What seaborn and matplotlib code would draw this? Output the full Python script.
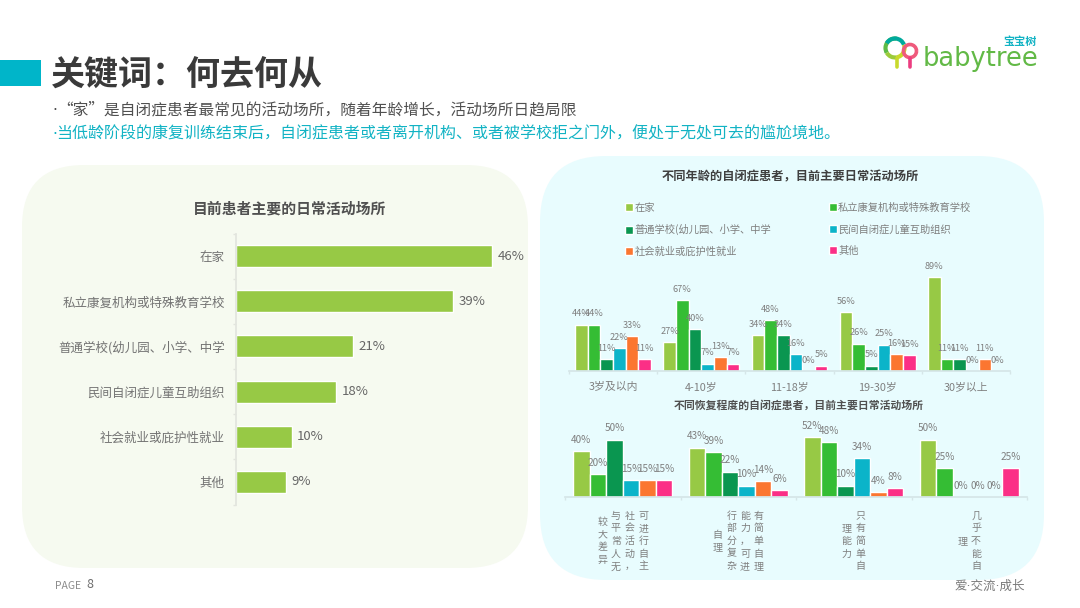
import matplotlib
matplotlib.use("Agg")
import matplotlib.pyplot as plt
import seaborn as sns
import pandas as pd
import numpy as np
from matplotlib.patches import FancyBboxPatch, Rectangle, Arc

W, H = 1080, 608

# left chart
places = ["在家", "私立康复机构或特殊教育学校", "普通学校(幼儿园、小学、中学", "民间自闭症儿童互助组织", "社会就业或庇护性就业", "其他"]
place_share = [46, 39, 21, 18, 10, 9]

# right top chart
age_groups = ["3岁及以内", "4-10岁", "11-18岁", "19-30岁", "30岁以上"]
age_home = [44, 27, 34, 56, 89]
age_private = [44, 67, 48, 26, 11]
age_school = [11, 40, 34, 5, 11]
age_civil = [22, 7, 16, 25, 0]
age_work = [33, 13, 0, 16, 11]
age_other = [11, 7, 5, 15, 0]

# right bottom chart
recovery_groups = ["可进行自主社会活动，与平常人无较大差异", "有简单自理能力，可进行部分复杂自理", "只有简单自理能力", "几乎不能自理"]
rec_home = [40, 43, 52, 50]
rec_private = [20, 39, 48, 25]
rec_school = [50, 22, 10, 0]
rec_civil = [15, 10, 34, 0]
rec_work = [15, 14, 4, 0]
rec_other = [15, 6, 8, 25]

colors = ["#97c945", "#35bd34", "#0a9650", "#0bb4c9", "#fb7630", "#fb2f86"]
GRAY = "#7f7f7f"
DARK = "#3a3a3a"

sns.set_theme(style="white")
plt.rcParams["font.family"] = ["Noto Sans CJK SC", "DejaVu Sans"]

fig = plt.figure(figsize=(W / 100, H / 100), dpi=100, facecolor="white")


def px_axes(x0, y0, x1, y1):
    # box given in image pixels, y going down
    ax = fig.add_axes([x0 / W, 1 - y1 / H, (x1 - x0) / W, (y1 - y0) / H])
    ax.patch.set_alpha(0)
    return ax


def long_table(groups, series):
    rows = []
    for name, values in zip(places, series):
        for g, v in zip(groups, values):
            rows.append({"group": g, "place": name, "value": v})
    return pd.DataFrame(rows)


def grouped_bars(ax, groups, series, ymax, label_size, tick_size, legend):
    df = long_table(groups, series)
    sns.barplot(data=df, x="group", y="value", hue="place", hue_order=places, palette=colors,
                width=0.86, gap=0, saturation=1, errorbar=None, legend=legend, ax=ax)
    for c in ax.containers:
        ax.bar_label(c, fmt="%d%%", padding=4.5, fontsize=label_size, color=GRAY)
    ax.set_xlim(-0.5, len(groups) - 0.5)
    ax.set_ylim(0, ymax)
    ax.set_xlabel("")
    ax.set_ylabel("")
    ax.set_yticks([])
    for s in ["top", "left", "right"]:
        ax.spines[s].set_visible(False)
    ax.spines["bottom"].set_color("#d5e6e8")
    ax.set_xticks(np.arange(-0.5, len(groups)), minor=True)
    ax.tick_params(axis="x", which="minor", length=2.5, color="#d5e6e8", bottom=True)
    ax.tick_params(axis="x", which="major", length=0, labelsize=tick_size, labelcolor=GRAY, pad=8)


# background layer
bg = fig.add_axes([0, 0, 1, 1])
bg.set_xlim(0, W)
bg.set_ylim(H, 0)
bg.axis("off")
bg.add_patch(FancyBboxPatch((22, 165), 506, 403, boxstyle="round,pad=0,rounding_size=62",
                            fc="#f6faf0", ec="none"))
bg.add_patch(FancyBboxPatch((540, 156), 504, 424, boxstyle="round,pad=0,rounding_size=66",
                            fc="#e8fcfe", ec="none"))
bg.add_patch(Rectangle((0, 60), 41, 26, fc="#00b5c9", ec="none"))

bg.text(51, 75, "关键词：何去何从", fontsize=24.5, fontweight="bold", color=DARK, va="center", ha="left")
bg.text(52, 110, "·", fontsize=11, family="DejaVu Sans", color="#505050", va="center", ha="left")
bg.text(57, 110, "“家”是自闭症患者最常见的活动场所，随着年龄增长，活动场所日趋局限", fontsize=11.3,
        color="#505050", va="center", ha="left")
bg.text(52, 134, "·", fontsize=11, family="DejaVu Sans", color="#12b3c4", va="center", ha="left")
bg.text(56, 134, "当低龄阶段的康复训练结束后，自闭症患者或者离开机构、或者被学校拒之门外，便处于无处可去的尴尬境地。",
        fontsize=11.5, color="#12b3c4", va="center", ha="left")

bg.text(290, 209, "目前患者主要的日常活动场所", fontsize=10.7, fontweight="bold", color="#505050", va="center", ha="center")
bg.text(790, 177, "不同年龄的自闭症患者，目前主要日常活动场所", fontsize=8.8, fontweight="bold", color="#404040",
        va="center", ha="center")
bg.text(799, 405, "不同恢复程度的自闭症患者，目前主要日常活动场所", fontsize=7.8, fontweight="bold", color="#505050",
        va="center", ha="center")

bg.text(55, 586, "PAGE", fontsize=7.5, color="#8c8c8c", va="center", ha="left")
bg.text(86, 585, "8", fontsize=9, color="#6e6e6e", va="center", ha="left")
bg.text(1025, 586, "爱·交流·成长", fontsize=9, family=["DejaVu Sans", "Noto Sans CJK SC"], color="#7a7a7a",
        va="center", ha="right")

# logo
bg.add_patch(Arc((895, 48), 19, 19, theta1=150, theta2=280, ec="#5dbb46", lw=3))
bg.add_patch(Arc((895, 48), 19, 19, theta1=210, theta2=340, ec="#00a99d", lw=3))
bg.add_patch(Arc((895, 48), 19, 19, theta1=340, theta2=80, ec="#c8d92c", lw=3))
bg.add_patch(Arc((895, 48), 19, 19, theta1=80, theta2=150, ec="#9ccb3b", lw=3))
bg.add_patch(Arc((910, 51), 13, 13, theta1=0, theta2=360, ec="#ef5a7c", lw=2.6))
bg.plot([897, 897], [58, 67], color="#c8d92c", lw=2.6)
bg.plot([910, 910], [58, 67], color="#ec3d80", lw=2.6)
bg.text(1037, 41, "宝宝树", fontsize=8, fontweight="bold", color="#12b3c4", va="center", ha="right")
bg.text(1038, 59, "babytree", fontsize=18.5, family="DejaVu Sans", color="#62b946", va="center", ha="right")

# left chart
ax1 = px_axes(236, 233.5, 520, 504.5)
sns.barplot(x=place_share, y=places, color=colors[0], saturation=1, width=0.49, errorbar=None, ax=ax1)
ax1.bar_label(ax1.containers[0], fmt="%d%%", padding=4, fontsize=9.5, color="#666666")
ax1.set_xlim(0, 51)
ax1.set_xticks([])
for s in ["top", "right", "bottom"]:
    ax1.spines[s].set_visible(False)
ax1.spines["left"].set_color("#e2e5de")
ax1.set_yticks(np.arange(-0.5, len(places)), minor=True)
ax1.tick_params(axis="y", which="minor", length=2.5, color="#e2e5de", left=True)
ax1.tick_params(axis="y", which="major", length=0, labelsize=9, labelcolor="#737373", pad=8)

# right top chart
ax2 = px_axes(569, 270, 1010, 371)
grouped_bars(ax2, age_groups, [age_home, age_private, age_school, age_civil, age_work, age_other],
             101 / 1.056, 6.6, 7.8, True)
handles, labels = ax2.get_legend_handles_labels()
order = [0, 2, 4, 1, 3, 5]
ax2.legend([handles[i] for i in order], [labels[i] for i in order], ncol=2, frameon=False, fontsize=7.4,
           labelcolor=GRAY, loc="lower left", bbox_to_anchor=(0.127, 1.13), handlelength=0.8, handleheight=0.8,
           handletextpad=0.11, columnspacing=5.6, labelspacing=1.1, borderpad=0, borderaxespad=0)

# right bottom chart
ax3 = px_axes(565, 430, 1027, 497)
grouped_bars(ax3, recovery_groups, [rec_home, rec_private, rec_school, rec_civil, rec_work, rec_other],
             67 / 1.15, 7.2, 7, False)
ax3.set_xticks(range(len(recovery_groups)))
ax3.set_xticklabels([""] * len(recovery_groups))
# category names are set vertically, in columns of 5 reading right to left
for i, name in enumerate(recovery_groups):
    cols = [name[k:k + 5] for k in range(0, len(name), 5)]
    for j, col in enumerate(cols):
        dx = ((len(cols) - 1) / 2 - j) * 13.7
        ax3.annotate("\n".join(col), xy=(i, 0), xycoords=("data", "axes fraction"), xytext=(dx * 0.72, -44 * 0.72),
                     textcoords="offset points", ha="center", va="center", fontsize=7.2, color=GRAY,
                     linespacing=1.33)

fig.savefig("out.png", dpi=100, facecolor="white")
